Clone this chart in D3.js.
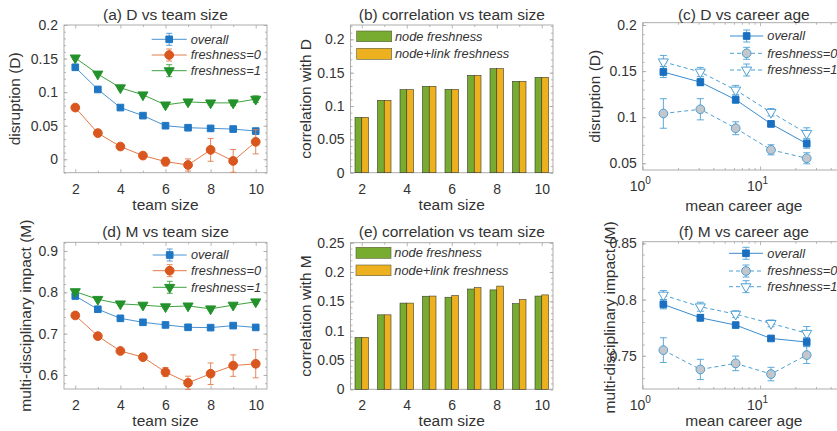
<!DOCTYPE html>
<html><head><meta charset="utf-8">
<script src="https://cdn.jsdelivr.net/npm/d3@7"></script>
<style>
body{margin:0;background:#fff}
svg{display:block}
text{font-family:"Liberation Sans",Arial,Helvetica,sans-serif;fill:#333}
</style>
</head><body>
<svg id="c" width="837" height="431"></svg>
<script>
// ---------------- data ----------------
const teamSizes = [2, 3, 4, 5, 6, 7, 8, 9, 10];

const D_overall     = [0.137, 0.104, 0.077, 0.065, 0.050, 0.047, 0.046, 0.045, 0.042];
const D_overall_err = [0.003, 0.002, 0.002, 0.002, 0.002, 0.002, 0.002, 0.002, 0.002];
const D_fresh0      = [0.077, 0.039, 0.019, 0.0055, -0.0035, -0.0085, 0.014, -0.0025, 0.026];
const D_fresh0_err  = [0.002, 0.003, 0.003, 0.004, 0.0065, 0.009, 0.017, 0.017, 0.018];
const D_fresh1      = [0.151, 0.127, 0.1065, 0.096, 0.081, 0.0855, 0.084, 0.084, 0.0895];
const D_fresh1_err  = [0.002, 0.002, 0.002, 0.002, 0.003, 0.003, 0.003, 0.004, 0.005];

const corrD_node = [0.083, 0.1085, 0.1245, 0.1295, 0.125, 0.146, 0.156, 0.137, 0.143];
const corrD_link = [0.083, 0.1085, 0.1245, 0.1295, 0.125, 0.146, 0.156, 0.137, 0.143];

const careerAge = [1.5, 3.1, 6.2, 12.4, 25];
const cD_overall     = [0.149, 0.138, 0.119, 0.0927, 0.0713];
const cD_overall_err = [0.006, 0.004, 0.004, 0.003, 0.005];
const cD_fresh0      = [0.104, 0.1086, 0.088, 0.0646, 0.0554];
const cD_fresh0_err  = [0.016, 0.0115, 0.007, 0.0055, 0.006];
const cD_fresh1      = [0.160, 0.149, 0.1295, 0.1053, 0.0825];
const cD_fresh1_err  = [0.007, 0.005, 0.005, 0.004, 0.006];

const M_overall     = [0.791, 0.759, 0.737, 0.7274, 0.721, 0.7153, 0.7145, 0.7194, 0.715];
const M_overall_err = [0.004, 0.003, 0.003, 0.003, 0.003, 0.003, 0.003, 0.003, 0.004];
const M_fresh0      = [0.744, 0.694, 0.658, 0.643, 0.607, 0.581, 0.603, 0.6226, 0.627];
const M_fresh0_err  = [0.004, 0.005, 0.006, 0.007, 0.011, 0.016, 0.026, 0.026, 0.034];
const M_fresh1      = [0.8016, 0.783, 0.772, 0.769, 0.765, 0.767, 0.760, 0.769, 0.777];
const M_fresh1_err  = [0.003, 0.003, 0.003, 0.003, 0.003, 0.003, 0.003, 0.004, 0.005];

const corrM_node = [0.0885, 0.127, 0.147, 0.1587, 0.157, 0.171, 0.1695, 0.146, 0.159];
const corrM_link = [0.0885, 0.127, 0.147, 0.159, 0.160, 0.1735, 0.176, 0.153, 0.161];

const cM_overall     = [0.7957, 0.7838, 0.7773, 0.7654, 0.7622];
const cM_overall_err = [0.004, 0.003, 0.002, 0.002, 0.004];
const cM_fresh0      = [0.755, 0.7378, 0.7432, 0.7337, 0.7506];
const cM_fresh0_err  = [0.011, 0.009, 0.0065, 0.006, 0.0075];
const cM_fresh1      = [0.804, 0.7936, 0.787, 0.7788, 0.770];
const cM_fresh1_err  = [0.004, 0.004, 0.003, 0.003, 0.006];

const lineLegend = ["overall", "freshness=0", "freshness=1"];
const barLegend  = ["node freshness", "node+link freshness"];

const teamMajor = [2, 4, 6, 8, 10];
const teamMinor = [3, 5, 7, 9];
const yTicksA = [0, 0.05, 0.1, 0.15, 0.2];
const yTicksB = [0, 0.05, 0.1, 0.15, 0.2];
const yTicksC = [0.05, 0.1, 0.15, 0.2];
const yTicksD = [0.6, 0.7, 0.8, 0.9];
const yTicksE = [0, 0.05, 0.1, 0.15, 0.2, 0.25];
const yTicksF = [0.75, 0.8, 0.85];
const logMajor = [1, 10];
const logMinor = [2, 3, 4, 5, 6, 7, 8, 9, 20, 30, 40, 50];

// ---------------- styles ----------------
const FONT = '"Liberation Sans", Arial, Helvetica, sans-serif';
const AXC = '#a4a4a4';
const TXT = '#333';
const C_BLUE = '#1f77c4', C_BLUE_L = '#4a92d2';
const C_ORNG = '#d9561e', C_ORNG_L = '#e27a48';
const C_GRN  = '#23922a', C_GRN_L = '#3da23d';
const C_LB   = '#4d9fd4';
const BAR_G = '#77ac30', BAR_O = '#edb120';
const TICK_FS = 14, LAB_FS = 15.5, LEG_FS = 12.8;

const svg = d3.select('#c');

function fmtNum(d) { return String(+d.toFixed(3)); }

function axes(p) {
  const g = svg.append('g');
  const [x0, x1] = p.x.range();
  const [y1, y0] = p.y.range();
  g.append('rect').attr('x', x0).attr('y', y0).attr('width', x1 - x0).attr('height', y1 - y0)
    .attr('fill', 'none').attr('stroke', AXC).attr('stroke-width', 0.9);
  const style = (sel) => {
    sel.select('.domain').remove();
    sel.selectAll('line').attr('stroke', AXC).attr('stroke-width', 0.8);
    sel.selectAll('text').attr('font-family', FONT).attr('font-size', TICK_FS).attr('fill', TXT);
    sel.attr('font-family', null).attr('font-size', null);
  };
  const bx = g.append('g').attr('transform', `translate(0,${y1})`)
    .call(d3.axisBottom(p.x).tickValues(p.xMajor).tickSize(-3.5).tickSizeOuter(0).tickPadding(p.tickPad || 11.5)
      .tickFormat(p.log ? () => '' : d3.format('d')));
  style(bx);
  if (p.log) {
    bx.selectAll('.tick').append('text')
      .attr('y', 20.8).attr('x', -3).attr('text-anchor', 'middle')
      .attr('font-family', FONT).attr('font-size', TICK_FS).attr('fill', TXT)
      .each(function(d) {
        const t = d3.select(this);
        t.append('tspan').text('10');
        t.append('tspan').attr('dy', -7).attr('font-size', 10).text(String(Math.round(Math.log10(d))));
      });
  }
  g.append('g').attr('transform', `translate(0,${y0})`)
    .call(d3.axisTop(p.x).tickValues(p.xMajor).tickSize(-3.5).tickSizeOuter(0).tickFormat(() => '')).call(style);
  g.append('g').attr('transform', `translate(0,${y1})`)
    .call(d3.axisBottom(p.x).tickValues(p.xMinor).tickSize(-2).tickSizeOuter(0).tickFormat(() => '')).call(style);
  g.append('g').attr('transform', `translate(0,${y0})`)
    .call(d3.axisTop(p.x).tickValues(p.xMinor).tickSize(-2).tickSizeOuter(0).tickFormat(() => '')).call(style);
  const ly = g.append('g').attr('transform', `translate(${x0},0)`)
    .call(d3.axisLeft(p.y).tickValues(p.yMajor).tickSize(-3.5).tickSizeOuter(0).tickPadding(6).tickFormat(fmtNum));
  style(ly);
  g.append('g').attr('transform', `translate(${x1},0)`)
    .call(d3.axisRight(p.y).tickValues(p.yMajor).tickSize(-3.5).tickSizeOuter(0).tickFormat(() => '')).call(style);
  const yMinor = d3.range(Math.ceil(p.y.domain()[0] / p.yMinorStep - 1e-9), Math.floor(p.y.domain()[1] / p.yMinorStep + 1e-9) + 1)
    .map(k => +(k * p.yMinorStep).toFixed(4));
  g.append('g').attr('transform', `translate(${x0},0)`)
    .call(d3.axisLeft(p.y).tickValues(yMinor).tickSize(-2).tickSizeOuter(0).tickFormat(() => '')).call(style);
  g.append('g').attr('transform', `translate(${x1},0)`)
    .call(d3.axisRight(p.y).tickValues(yMinor).tickSize(-2).tickSizeOuter(0).tickFormat(() => '')).call(style);
  g.append('text').attr('x', (x0 + x1) / 2).attr('y', p.titleY).attr('text-anchor', 'middle')
    .attr('font-size', LAB_FS).text(p.title);
  g.append('text').attr('x', (x0 + x1) / 2).attr('y', p.xlabY).attr('text-anchor', 'middle')
    .attr('font-size', LAB_FS).text(p.xlab);
  g.append('text').attr('transform', `translate(${p.ylabX},${(y0 + y1) / 2 + (p.ylabDy || 0)}) rotate(-90)`)
    .attr('text-anchor', 'middle').attr('font-size', LAB_FS).text(p.ylab);
  return g;
}

function marker(sel, shape, st) {
  if (shape === 'square') {
    sel.attr('d', d3.symbol(d3.symbolSquare, 44)());
  } else if (shape === 'circle') {
    sel.attr('d', d3.symbol(d3.symbolCircle, 60)());
  } else {
    sel.attr('d', d3.symbol(d3.symbolTriangle, 44)());
  }
  sel.attr('fill', st.fill).attr('stroke', st.stroke).attr('stroke-width', st.sw || 1);
}

function series(g, x, y, xs, ys, es, st) {
  const line = d3.line().x((d, i) => x(xs[i])).y(d => y(d));
  g.append('path').datum(ys).attr('d', line).attr('fill', 'none')
    .attr('stroke', st.line).attr('stroke-width', 1).attr('stroke-dasharray', st.dash || null);
  const cap = st.cap || 3;
  const eb = g.append('g').selectAll('g').data(ys).enter().append('g')
    .attr('stroke', st.err).attr('stroke-width', 0.9);
  eb.append('line').attr('x1', (d, i) => x(xs[i])).attr('x2', (d, i) => x(xs[i]))
    .attr('y1', (d, i) => y(d - es[i])).attr('y2', (d, i) => y(d + es[i]));
  eb.append('line').attr('x1', (d, i) => x(xs[i]) - cap).attr('x2', (d, i) => x(xs[i]) + cap)
    .attr('y1', (d, i) => y(d - es[i])).attr('y2', (d, i) => y(d - es[i]));
  eb.append('line').attr('x1', (d, i) => x(xs[i]) - cap).attr('x2', (d, i) => x(xs[i]) + cap)
    .attr('y1', (d, i) => y(d + es[i])).attr('y2', (d, i) => y(d + es[i]));
  g.append('g').selectAll('path').data(ys).enter().append('path')
    .attr('transform', (d, i) => `translate(${x(xs[i])},${y(d)})` + (st.shape === 'tri' ? ' rotate(180)' : ''))
    .call(marker, st.shape, st);
}

function lineLegendDraw(g, lx0, lx1, tx, ys, styles) {
  styles.forEach((st, i) => {
    const yy = ys[i], cx = (lx0 + lx1) / 2, cap = st.cap || 3;
    g.append('line').attr('x1', lx0).attr('x2', lx1).attr('y1', yy).attr('y2', yy)
      .attr('stroke', st.line).attr('stroke-width', 1).attr('stroke-dasharray', st.dash || null);
    const e = g.append('g').attr('stroke', st.err).attr('stroke-width', 0.9);
    e.append('line').attr('x1', cx).attr('x2', cx).attr('y1', yy - 6).attr('y2', yy + 6);
    e.append('line').attr('x1', cx - cap).attr('x2', cx + cap).attr('y1', yy - 6).attr('y2', yy - 6);
    e.append('line').attr('x1', cx - cap).attr('x2', cx + cap).attr('y1', yy + 6).attr('y2', yy + 6);
    g.append('path').attr('transform', `translate(${cx},${yy})` + (st.shape === 'tri' ? ' rotate(180)' : ''))
      .call(marker, st.shape, st);
    g.append('text').attr('x', tx).attr('y', yy).attr('dy', '0.35em').attr('font-size', LEG_FS)
      .attr('font-style', 'italic').text(lineLegend[i]);
  });
}

function bars(g, x, y, xs, a, b) {
  const w = x(1) - x(0);
  const bw = 0.3 * w;
  const grp = g.append('g');
  grp.selectAll('rect.g').data(a).enter().append('rect')
    .attr('x', (d, i) => x(xs[i]) - bw).attr('width', bw)
    .attr('y', d => y(d)).attr('height', d => y(0) - y(d))
    .attr('fill', BAR_G).attr('stroke', '#3a3a2a').attr('stroke-width', 0.6);
  grp.selectAll('rect.o').data(b).enter().append('rect')
    .attr('x', (d, i) => x(xs[i])).attr('width', bw)
    .attr('y', d => y(d)).attr('height', d => y(0) - y(d))
    .attr('fill', BAR_O).attr('stroke', '#3a3a2a').attr('stroke-width', 0.6);
}

function barLegendDraw(g, px0, px1, tx, boxes) {
  [BAR_G, BAR_O].forEach((c, i) => {
    const [t, bt] = boxes[i];
    g.append('rect').attr('x', px0).attr('y', t).attr('width', px1 - px0).attr('height', bt - t)
      .attr('fill', c).attr('stroke', '#5a5a3a').attr('stroke-width', 0.6);
    g.append('text').attr('x', tx).attr('y', (t + bt) / 2).attr('dy', '0.35em').attr('font-size', LEG_FS)
      .attr('font-style', 'italic').text(barLegend[i]);
  });
}

const stA = [
  {shape: 'square', fill: C_BLUE, stroke: C_BLUE, line: C_BLUE_L, err: C_BLUE_L},
  {shape: 'circle', fill: C_ORNG, stroke: C_ORNG, line: C_ORNG_L, err: C_ORNG_L},
  {shape: 'tri', fill: C_GRN, stroke: C_GRN, line: C_GRN_L, err: C_GRN_L}
];
const stC = [
  {shape: 'square', fill: '#1a6fc0', stroke: '#1a6fc0', line: '#3a8ccf', err: C_LB, cap: 3.5},
  {shape: 'circle', fill: '#c3c7cb', stroke: C_LB, line: C_LB, err: C_LB, dash: '4,3', cap: 3.5},
  {shape: 'tri', fill: '#ffffff', stroke: C_LB, line: C_LB, err: C_LB, dash: '4,3', cap: 3.5}
];

// ---------------- (a) ----------------
{
  const x = d3.scaleLinear().domain([1.5, 10.5]).range([64, 267]);
  const y = d3.scaleLinear().domain([-0.02, 0.2]).range([172.7, 25]);
  const g = axes({x, y, xMajor: teamMajor, xMinor: teamMinor, yMajor: yTicksA, yMinorStep: 0.01,
    title: '(a) D vs team size', titleY: 20, xlab: 'team size', xlabY: 209.5, ylab: 'disruption (D)', ylabX: 19.5});
  series(g, x, y, teamSizes, D_overall, D_overall_err, stA[0]);
  series(g, x, y, teamSizes, D_fresh0, D_fresh0_err, stA[1]);
  series(g, x, y, teamSizes, D_fresh1, D_fresh1_err, stA[2]);
  lineLegendDraw(g, 151.7, 186.7, 190.7, [39.3, 55, 70.7], stA);
}
// ---------------- (b) ----------------
{
  const x = d3.scaleLinear().domain([1.5, 10.5]).range([350.5, 553]);
  const y = d3.scaleLinear().domain([0, 0.2215]).range([172.7, 25]);
  const g = axes({x, y, xMajor: teamMajor, xMinor: teamMinor, yMajor: yTicksB, yMinorStep: 0.01,
    title: '(b) correlation vs team size', titleY: 20, xlab: 'team size', xlabY: 209.5, ylab: 'correlation with D', ylabX: 310.5});
  bars(g, x, y, teamSizes, corrD_node, corrD_link);
  barLegendDraw(g, 356.7, 391.7, 395, [[31, 41.7], [48.3, 59.3]]);
}
// ---------------- (c) ----------------
{
  const x = d3.scaleLog().domain([1, 53]).range([642.7, 845]);
  const y = d3.scaleLinear().domain([0.0427, 0.2025]).range([170, 22.7]);
  const g = axes({x, y, log: true, xMajor: logMajor, xMinor: logMinor, yMajor: yTicksC, yMinorStep: 0.01,
    title: '(c) D vs career age', titleY: 20, xlab: 'mean career age', xlabY: 210.5, ylab: 'disruption (D)', ylabX: 599.5});
  series(g, x, y, careerAge, cD_fresh0, cD_fresh0_err, stC[1]);
  series(g, x, y, careerAge, cD_fresh1, cD_fresh1_err, stC[2]);
  series(g, x, y, careerAge, cD_overall, cD_overall_err, stC[0]);
  lineLegendDraw(g, 730, 763.3, 767.3, [36, 53.3, 70], stC);
}
// ---------------- (d) ----------------
{
  const x = d3.scaleLinear().domain([1.5, 10.5]).range([64, 267]);
  const y = d3.scaleLinear().domain([0.566, 0.921]).range([389, 242.3]);
  const g = axes({x, y, xMajor: teamMajor, xMinor: teamMinor, yMajor: yTicksD, yMinorStep: 0.02,
    title: '(d) M vs team size', titleY: 236.7, xlab: 'team size', xlabY: 425.8, ylab: 'multi-disciplinary impact (M)', ylabX: 30.5});
  series(g, x, y, teamSizes, M_overall, M_overall_err, stA[0]);
  series(g, x, y, teamSizes, M_fresh0, M_fresh0_err, stA[1]);
  series(g, x, y, teamSizes, M_fresh1, M_fresh1_err, stA[2]);
  lineLegendDraw(g, 152.7, 186.7, 191, [255, 270.7, 287.3], stA);
}
// ---------------- (e) ----------------
{
  const x = d3.scaleLinear().domain([1.5, 10.5]).range([350.5, 553]);
  const y = d3.scaleLinear().domain([0, 0.25]).range([389.3, 242.7]);
  const g = axes({x, y, xMajor: teamMajor, xMinor: teamMinor, yMajor: yTicksE, yMinorStep: 0.01, tickPad: 11,
    title: '(e) correlation vs team size', titleY: 236.7, xlab: 'team size', xlabY: 426.3, ylab: 'correlation with M', ylabX: 310.5});
  bars(g, x, y, teamSizes, corrM_node, corrM_link);
  barLegendDraw(g, 356, 391, 394.3, [[247.3, 258.3], [265, 275.7]]);
}
// ---------------- (f) ----------------
{
  const x = d3.scaleLog().domain([1, 53]).range([642.7, 845]);
  const y = d3.scaleLinear().domain([0.7204, 0.8515]).range([389, 241.7]);
  const g = axes({x, y, log: true, xMajor: logMajor, xMinor: logMinor, yMajor: yTicksF, yMinorStep: 0.01,
    title: '(f) M vs career age', titleY: 236.7, xlab: 'mean career age', xlabY: 426, ylab: 'multi-disciplinary impact (M)', ylabX: 614.5, ylabDy: 2});
  series(g, x, y, careerAge, cM_fresh0, cM_fresh0_err, stC[1]);
  series(g, x, y, careerAge, cM_fresh1, cM_fresh1_err, stC[2]);
  series(g, x, y, careerAge, cM_overall, cM_overall_err, stC[0]);
  lineLegendDraw(g, 729, 763, 767.3, [253.3, 271, 286.7], stC);
}
</script>
</body></html>
